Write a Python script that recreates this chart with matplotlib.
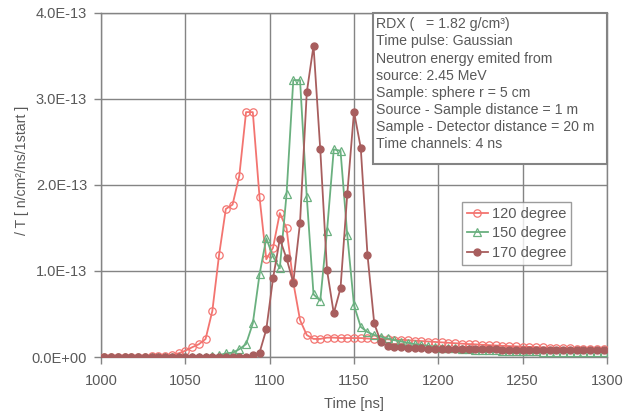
import numpy as np
import matplotlib
matplotlib.use("Agg")
import matplotlib.pyplot as plt
from matplotlib.patches import Rectangle
from matplotlib.ticker import FuncFormatter, MultipleLocator

plt.rcParams['font.family'] = ['Liberation Sans', 'DejaVu Sans']

# time channel centres (4 ns channels)
time_ns = np.arange(1002, 1299, 4)

# values in units of 1e-13 n/cm2/ns/1start
deg120 = [0.0, 0.0, 0.0, 0.0, 0.0, 0.002, 0.004, 0.006, 0.01, 0.015,
          0.023, 0.043, 0.073, 0.113, 0.148, 0.209, 0.534, 1.185, 1.72, 1.77,
          2.106, 2.845, 2.845, 1.855, 1.135, 1.27, 1.672, 1.495, 0.868, 0.43,
          0.255, 0.21, 0.21, 0.225, 0.225, 0.22, 0.22, 0.22, 0.22, 0.215,
          0.21, 0.21, 0.205, 0.2, 0.2, 0.195, 0.19, 0.185, 0.18, 0.175,
          0.17, 0.165, 0.16, 0.155, 0.15, 0.147, 0.142, 0.138, 0.134, 0.13,
          0.127, 0.124, 0.12, 0.117, 0.114, 0.111, 0.108, 0.105, 0.102, 0.1,
          0.098, 0.096, 0.094, 0.092, 0.09]
deg150 = [0.0, 0.0, 0.0, 0.0, 0.0, 0.0, 0.0, 0.0, 0.0, 0.0,
          0.0, 0.0, 0.0, 0.0, 0.0, 0.003, 0.008, 0.02, 0.043, 0.05,
          0.09, 0.15, 0.39, 0.96, 1.38, 1.165, 1.03, 1.89, 3.217, 3.217,
          1.86, 0.728, 0.654, 1.463, 2.412, 2.396, 1.42, 0.6, 0.35, 0.29,
          0.255, 0.236, 0.215, 0.195, 0.18, 0.165, 0.15, 0.14, 0.13, 0.12,
          0.11, 0.105, 0.1, 0.095, 0.09, 0.087, 0.084, 0.081, 0.078, 0.075,
          0.073, 0.071, 0.069, 0.067, 0.065, 0.063, 0.062, 0.061, 0.06, 0.059,
          0.058, 0.057, 0.056, 0.055, 0.054]
deg170 = [0.0, 0.0, 0.0, 0.0, 0.0, 0.0, 0.0, 0.0, 0.0, 0.0,
          0.0, 0.0, 0.0, 0.0, 0.0, 0.0, 0.0, 0.0, 0.0, 0.0,
          0.0, 0.005, 0.02, 0.05, 0.32, 0.914, 1.37, 1.146, 0.863, 1.56,
          3.074, 3.616, 2.412, 1.01, 0.508, 0.798, 1.89, 2.85, 2.43, 1.185,
          0.39, 0.17, 0.13, 0.12, 0.114, 0.108, 0.104, 0.1, 0.097, 0.095,
          0.093, 0.092, 0.091, 0.09, 0.09, 0.089, 0.089, 0.088, 0.088, 0.087,
          0.087, 0.086, 0.086, 0.085, 0.085, 0.084, 0.084, 0.083, 0.083, 0.082,
          0.082, 0.081, 0.081, 0.08, 0.08]
series_labels = ['120 degree', '150 degree', '170 degree']

info_lines = ["RDX (   = 1.82 g/cm³)",
              "Time pulse: Gaussian",
              "Neutron energy emited from",
              "source: 2.45 MeV",
              "Sample: sphere r = 5 cm",
              "Source - Sample distance = 1 m",
              "Sample - Detector distance = 20 m",
              "Time channels: 4 ns"]

scale = 1e-13
c_red = '#F37470'
c_green = '#6AB07F'
c_brown = '#A85E5E'
grey = '#848484'
txt = '#595959'
fs = 10.5

W, H = 625, 415
ax_l, ax_r, ax_t, ax_b = 101, 607, 12.7, 357

fig = plt.figure(figsize=(W / 100, H / 100), dpi=100)
ax = fig.add_axes([ax_l / W, 1 - ax_b / H, (ax_r - ax_l) / W, (ax_b - ax_t) / H])

ax.plot(time_ns, np.array(deg120) * scale, color=c_red, lw=1.3, marker='o',
        ms=5.3, mfc='none', mec=c_red, mew=0.9, label=series_labels[0], zorder=3)
ax.plot(time_ns, np.array(deg150) * scale, color=c_green, lw=1.3, marker='^',
        ms=5.6, mfc='none', mec=c_green, mew=0.9, label=series_labels[1], zorder=4)
ax.plot(time_ns, np.array(deg170) * scale, color=c_brown, lw=1.3, marker='o',
        ms=5.0, mfc=c_brown, mec=c_brown, label=series_labels[2], zorder=5)

ax.set_xlim(1000, 1300)
ax.set_ylim(0, 4e-13)
ax.xaxis.set_major_locator(MultipleLocator(50))
ax.yaxis.set_major_locator(MultipleLocator(1e-13))
ax.yaxis.set_major_formatter(FuncFormatter(lambda v, p: '{:.1E}'.format(v)))
ax.grid(True, color=grey, lw=1.0, zorder=0)
ax.set_axisbelow(True)
for s in ax.spines.values():
    s.set_color(grey)
    s.set_linewidth(1.0)
ax.tick_params(axis='both', direction='out', length=5, width=1.0, color=grey,
               labelcolor=txt, labelsize=fs)
ax.tick_params(axis='y', pad=5)
ax.tick_params(axis='x', pad=7)

ax.set_xlabel('Time [ns]', color=txt, fontsize=fs, labelpad=7)
ax.set_ylabel('/ T [ n/cm²/ns/1start ]', color=txt, fontsize=10.2)
ax.yaxis.set_label_coords((29 - ax_l) / (ax_r - ax_l), (ax_b - 170) / (ax_b - ax_t))

leg = ax.legend(loc='upper left',
                bbox_to_anchor=((461.7 - ax_l) / (ax_r - ax_l), (ax_b - 201.7) / (ax_b - ax_t)),
                fontsize=fs, frameon=True, fancybox=False, handlelength=1.45,
                handletextpad=0.25, borderpad=0.35, labelspacing=0.38,
                borderaxespad=0)
leg.get_frame().set_edgecolor(grey)
leg.get_frame().set_linewidth(1.0)
for t in leg.get_texts():
    t.set_color(txt)

bx0 = (372.7 - ax_l) / (ax_r - ax_l)
by0 = (ax_b - 164.3) / (ax_b - ax_t)
box = Rectangle((bx0, by0), 1 - bx0, 1 - by0, transform=ax.transAxes,
                facecolor='white', edgecolor=grey, lw=1.5, zorder=6,
                clip_on=False)
ax.add_patch(box)
tx = (375.7 - ax_l) / (ax_r - ax_l)
for i, line in enumerate(info_lines):
    base = 28.3 + 17.15 * i
    ax.text(tx, (ax_b - base) / (ax_b - ax_t), line, transform=ax.transAxes,
            ha='left', va='baseline', fontsize=10.2, color=txt, zorder=7)

fig.savefig('out.png', dpi=100)
